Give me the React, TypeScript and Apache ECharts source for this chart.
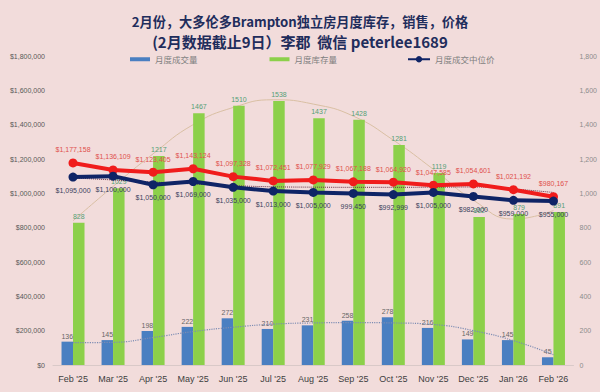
import React, { useEffect, useRef } from "react";
import * as echarts from "echarts";

const months = ["Feb '25", "Mar '25", "Apr '25", "May '25", "Jun '25", "Jul '25", "Aug '25", "Sep '25", "Oct '25", "Nov '25", "Dec '25", "Jan '26", "Feb '26"];
const sales = [136, 145, 198, 222, 272, 210, 231, 258, 278, 216, 149, 145, 45];
const inventory = [828, 1029, 1217, 1467, 1510, 1538, 1437, 1428, 1281, 1119, 862, 879, 891];
const avgPrice = [1177158, 1136109, 1123405, 1143124, 1097328, 1072451, 1077929, 1067188, 1064920, 1047585, 1054601, 1021192, 980167];
const medianPrice = [1095000, 1100000, 1050000, 1069000, 1035000, 1013000, 1005000, 999450, 992999, 1005000, 982000, 959000, 955000];
const inventoryTrend = [840, 1040, 1230, 1400, 1500, 1545, 1520, 1450, 1310, 1140, 960, 850, 900];
const salesTrend = [130, 132, 160, 195, 220, 238, 245, 247, 245, 236, 200, 142, 60];
const priceTrend = [1090000, 1078000, 1066000, 1055000, 1045000, 1038000, 1036000, 1035000, 1035000, 1036000, 1037000, 1025000, 1005000];
const legendNames = ["月度成交量", "月度库存量", "月度成交中位价"];
const titleLine1 = "2月份，大多伦多Brampton独立房月度库存，销售，价格";
const titleLine2 = "(2月数据截止9日）李郡  微信 peterlee1689";

const FONT = "'Liberation Sans', Arial, sans-serif";
const CJK = "'Noto Sans CJK SC', 'Liberation Sans', sans-serif";

const money = (v: number) => "$" + Math.round(v).toLocaleString("en-US");

export default function App() {
  const ref = useRef<HTMLDivElement>(null);
  useEffect(() => {
    if (!ref.current) return;
    const chart = echarts.init(ref.current, undefined, { renderer: "svg" });
    chart.setOption({
      animation: false,
      backgroundColor: "#f2dcdb",
      title: {
        text: "{a|" + titleLine1 + "}\n{b|" + titleLine2 + "}",
        left: "center",
        top: 6,
        textStyle: {
          fontFamily: CJK,
          fontWeight: "bold",
          color: "#1f2d5c",
          rich: {
            a: { fontFamily: CJK, fontSize: 13.2, fontWeight: "bold", color: "#1f2d5c", lineHeight: 20 },
            b: { fontFamily: CJK, fontSize: 15, fontWeight: "bold", color: "#1f2d5c", lineHeight: 20 },
          },
        },
      },
      legend: [
        {
          data: [
            { name: legendNames[0], icon: "rect" },
            { name: legendNames[1], icon: "rect" },
          ],
          left: 125,
          top: 50,
          itemWidth: 20,
          itemHeight: 4,
          itemGap: 72,
          textStyle: { fontFamily: CJK, fontSize: 8.5, color: "#7f7f7f" },
        },
        {
          data: [{ name: legendNames[2] }],
          left: 402,
          top: 50,
          itemWidth: 22,
          itemHeight: 8,
          textStyle: { fontFamily: CJK, fontSize: 8.5, color: "#7f7f7f" },
        },
      ],
      grid: { left: 53, right: 24, top: 56, bottom: 27, containLabel: false },
      xAxis: {
        type: "category",
        data: months,
        axisLine: { show: true, lineStyle: { color: "#d9c9c8" } },
        axisTick: { show: false },
        axisLabel: { interval: 0, fontFamily: FONT, fontSize: 9, color: "#404040", margin: 9 },
      },
      yAxis: [
        {
          type: "value",
          min: 0,
          max: 1800000,
          interval: 200000,
          splitLine: { show: false },
          axisLine: { show: false },
          axisTick: { show: false },
          axisLabel: { fontFamily: FONT, fontSize: 7, color: "#595959", margin: 8, formatter: (v: number) => money(v) },
        },
        {
          type: "value",
          min: 0,
          max: 1800,
          interval: 200,
          splitLine: { show: false },
          axisLine: { show: false },
          axisTick: { show: false },
          axisLabel: { fontFamily: FONT, fontSize: 7, color: "#8c8c8c", margin: 6 },
        },
      ],
      series: [
        {
          name: legendNames[0],
          type: "bar",
          yAxisIndex: 1,
          data: sales,
          barWidth: 11.5,
          barGap: "0%",
          itemStyle: { color: "#4a7fc1" },
          label: { show: true, position: "top", distance: 2, fontFamily: FONT, fontSize: 7, color: "#666666" },
        },
        {
          name: legendNames[1],
          type: "bar",
          yAxisIndex: 1,
          data: inventory,
          barWidth: 11.5,
          barGap: "0%",
          itemStyle: { color: "#8cd04a" },
          label: { show: true, position: "top", distance: 3, fontFamily: FONT, fontSize: 7, color: "#55a077" },
        },
        {
          name: "库存趋势",
          type: "line",
          yAxisIndex: 1,
          data: inventoryTrend,
          smooth: 0.5,
          symbol: "none",
          z: 1,
          lineStyle: { color: "#d9bfa3", width: 1 },
          silent: true,
        },
        {
          name: "成交趋势",
          type: "line",
          yAxisIndex: 1,
          data: salesTrend,
          smooth: 0.5,
          symbol: "none",
          z: 3,
          lineStyle: { color: "#7d8cb3", width: 1.2, type: "dotted" },
          silent: true,
        },
        {
          name: "月度成交均价",
          type: "line",
          yAxisIndex: 0,
          data: avgPrice,
          symbol: "circle",
          symbolSize: 9,
          z: 5,
          itemStyle: { color: "#f01c1c" },
          lineStyle: { color: "#f01c1c", width: 4 },
          label: { show: true, position: "top", distance: 5, fontFamily: FONT, fontSize: 7, color: "#e0504c", formatter: (p: any) => money(p.value) },
        },
        {
          name: "价格趋势",
          type: "line",
          yAxisIndex: 0,
          data: priceTrend,
          smooth: 0.5,
          symbol: "none",
          z: 4,
          lineStyle: { color: "#6a2f45", width: 1, type: "dotted" },
          silent: true,
        },
        {
          name: legendNames[2],
          type: "line",
          yAxisIndex: 0,
          data: medianPrice,
          symbol: "circle",
          symbolSize: 9,
          z: 6,
          itemStyle: { color: "#0f2466" },
          lineStyle: { color: "#0f2466", width: 4 },
          label: {
            show: true,
            position: "bottom",
            distance: 5,
            fontFamily: FONT,
            fontSize: 7,
            color: "#3a3f5c",
            formatter: (p: any) => (p.dataIndex === 7 ? Math.round(p.value).toLocaleString("en-US") : money(p.value)),
          },
        },
      ],
    });
    return () => chart.dispose();
  }, []);
  return <div ref={ref} style={{ position: "fixed", left: 0, top: 0, width: 600, height: 392 }} />;
}
